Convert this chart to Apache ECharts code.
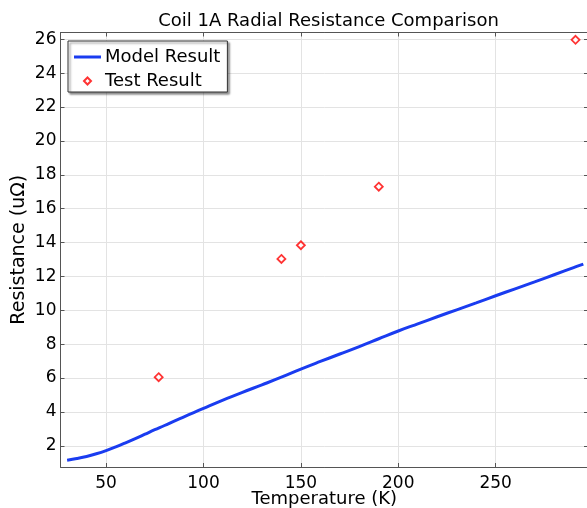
<!DOCTYPE html>
<html>
<head>
<meta charset="utf-8">
<script src="https://cdn.jsdelivr.net/npm/echarts@6/dist/echarts.min.js"></script>
<style>
html,body{margin:0;padding:0;background:#fff;}
#chart{width:587px;height:508px;}
</style>
</head>
<body>
<div id="chart"></div>
<script>
// Model Result curve: temperature (K) and resistance (uΩ)
const modelT = [30,35,40,45,50,55,60,65,70,75,80,85,90,95,100,110,120,130,140,150,160,170,180,190,200,210,220,230,240,250,260,270,280,290,295];
const modelR = [1.15,1.25,1.37,1.53,1.72,1.94,2.18,2.43,2.69,2.95,3.2,3.46,3.71,3.96,4.21,4.7,5.16,5.6,6.05,6.53,6.98,7.42,7.86,8.32,8.78,9.2,9.62,10.03,10.44,10.86,11.27,11.68,12.1,12.52,12.73];
// Test Result points
const testT = [77,140,150,190,291];
const testR = [6.05,13.03,13.84,17.3,25.97];
// Tick labels
const xTicks = [50,100,150,200,250];
const yTicks = [2,4,6,8,10,12,14,16,18,20,22,24,26];

const FONT = 'DejaVu Sans';
const xMin = 26.6, xMax = 297.4, yMin = 0.75, yMax = 26.4;
const axisColor = '#555';
const gridColor = '#e3e3e3';

function xAx(pos, labels) {
  return {
    type: 'value', position: pos, min: xMin, max: xMax,
    axisLine: {show: true, onZero: false, lineStyle: {color: axisColor, width: 1}},
    axisTick: {show: true, inside: true, length: 4, customValues: xTicks, lineStyle: {color: axisColor}},
    axisLabel: {show: labels, customValues: xTicks, color: '#000', fontFamily: FONT, fontSize: 17, margin: 8},
    splitLine: {show: pos === 'bottom', lineStyle: {color: gridColor, width: 1}},
    name: labels ? 'Temperature (K)' : '',
    nameLocation: 'middle', nameGap: 23, nameMoveOverlap: false,
    nameTextStyle: {color: '#000', fontFamily: FONT, fontSize: 18}
  };
}
function yAx(pos, labels) {
  return {
    type: 'value', position: pos, min: yMin, max: yMax,
    axisLine: {show: true, onZero: false, lineStyle: {color: axisColor, width: 1}},
    axisTick: {show: true, inside: true, length: 4, customValues: yTicks, lineStyle: {color: axisColor}},
    axisLabel: {show: labels, customValues: yTicks, color: '#000', fontFamily: FONT, fontSize: 17, margin: 4},
    splitLine: {show: pos === 'left', lineStyle: {color: gridColor, width: 1}},
    name: labels ? 'Resistance (uΩ)' : '',
    nameLocation: 'middle', nameGap: 32, nameMoveOverlap: false,
    nameTextStyle: {color: '#000', fontFamily: FONT, fontSize: 19}
  };
}

const chart = echarts.init(document.getElementById('chart'), null, {renderer: 'canvas'});
chart.setOption({
  animation: false,
  backgroundColor: '#fff',
  title: {
    text: 'Coil 1A Radial Resistance Comparison',
    left: 323.5, top: 7, textAlign: 'center',
    textStyle: {color: '#000', fontFamily: FONT, fontSize: 18, fontWeight: 'normal'}
  },
  grid: {left: 60.5, right: -1, top: 32.5, bottom: 41, containLabel: false, outerBoundsMode: 'none'},
  xAxis: [xAx('bottom', true), xAx('top', false)],
  yAxis: [yAx('left', true), yAx('right', false)],
  legend: {
    orient: 'vertical', left: 68, top: 41,
    padding: [7, 7, 2, 6],
    itemWidth: 27, itemHeight: 7, itemGap: 6,
    symbolKeepAspect: true,
    backgroundColor: '#fff', borderColor: '#333', borderWidth: 1,
    shadowColor: 'rgba(0,0,0,0.45)', shadowOffsetX: 2, shadowOffsetY: 2, shadowBlur: 2,
    textStyle: {color: '#000', fontFamily: FONT, fontSize: 18, padding: [0,0,0,-1]},
    data: [
      {name: 'Model Result', icon: 'path://M0,0L27,0L27,3L0,3Z'},
      {name: 'Test Result', icon: 'path://M3,0L6,3L3,6L0,3Z'}
    ]
  },
  series: [
    {
      name: 'Model Result', type: 'line', xAxisIndex: 0, yAxisIndex: 0,
      data: modelT.map((t, i) => [t, modelR[i]]),
      symbol: 'none', smooth: 0.4,
      lineStyle: {color: '#1a3cf0', width: 3},
      itemStyle: {color: '#1a3cf0'}
    },
    {
      name: 'Test Result', type: 'scatter', xAxisIndex: 0, yAxisIndex: 0,
      data: testT.map((t, i) => [t, testR[i]]),
      symbol: 'diamond', symbolSize: 8,
      itemStyle: {color: '#fff', borderColor: '#ff0000', borderWidth: 1.8}
    }
  ]
});
</script>
</body>
</html>
